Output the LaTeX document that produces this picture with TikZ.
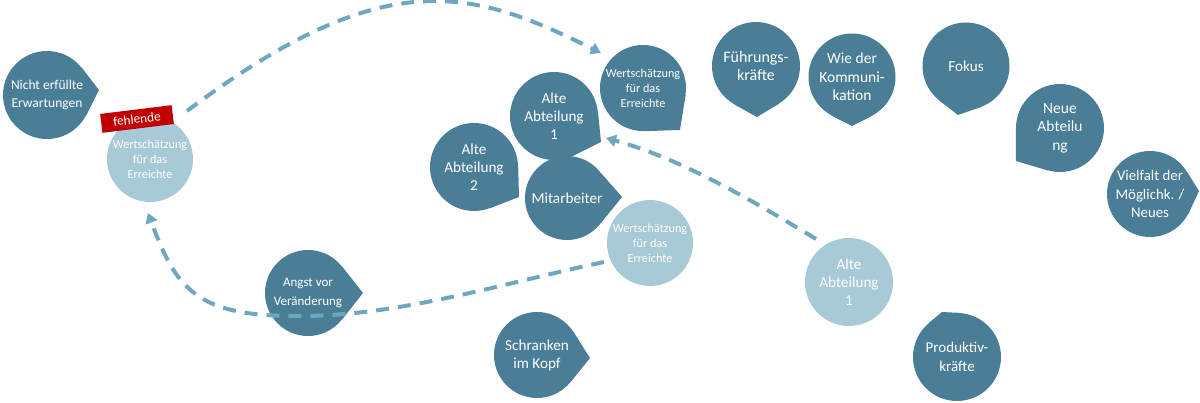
\documentclass[tikz,border=0pt]{standalone}
\usepackage{fontspec}
\setmainfont{Carlito}
\usetikzlibrary{arrows.meta}
\pgfdeclarelayer{bg}
\pgfsetlayers{bg,main}
\definecolor{bdark}{HTML}{4A7E96}
\definecolor{blight}{HTML}{A8C9D6}
\definecolor{arrowc}{HTML}{6FA7C1}
\definecolor{redlbl}{HTML}{C00000}
\tikzset{
  bubble/.style={circle, fill=bdark, inner sep=0pt, minimum size=#1, text=white,
    align=center, font=\fontsize{15.2}{18}\selectfont},
  bubble/.default=88pt,
  sbubble/.style={bubble=#1, font=\fontsize{12.2}{15}\selectfont},
  lbubble/.style={bubble=#1, fill=blight},
  slbubble/.style={sbubble=#1, fill=blight},
  fs/.style={font=\fontsize{#1}{18.5}\selectfont},
  tailfill/.style={fill=bdark},
  redtag/.style={fill=redlbl, text=white, inner sep=0pt, minimum width=72pt,
    minimum height=19pt, font=\fontsize{13.3}{15}\selectfont},
  arr/.style={draw=arrowc, line width=4pt, dash pattern=on 13pt off 9pt,
    -{Triangle[length=10pt,width=12pt]}},
}
\newcommand\btail[4]{\fill[tailfill] (#1.center) -- (#1.#2) -- #3 -- (#1.#4) -- cycle;}
\begin{document}
\begin{tikzpicture}[x=1pt,y=-1pt]
\useasboundingbox (0,0) rectangle (1200,403);

% dark bubbles
\node[bubble=88pt, fs=13.5] (nicht) at (47,95) {Nicht erfüllte\\Erwartungen};
\node[sbubble=86pt] (wtop) at (643,88) {Wertschätzung\\für das\\Erreichte};
\node[bubble=88pt] (alt1) at (554,116) {Alte\\Abteilung\\1};
\node[bubble=88pt] (alt2) at (474,167) {Alte\\Abteilung\\2};
\node[bubble=84pt] (mitar) at (567,198) {Mitarbeiter};
\node[bubble=88pt, fs=16] (fuehr) at (756,66) {Führungs-\\kräfte};
\node[bubble=87pt, fs=15.5] (wie) at (852,77) {Wie der\\Kommuni-\\kation};
\node[bubble=87pt] (fokus) at (966,66) {Fokus};
\node[bubble=88pt, fs=15.5] (neue) at (1060,128) {Neue\\Abteilu\\ng};
\node[bubble=86pt, fs=14.8] (viel) at (1150,194) {Vielfalt der\\Möglichk. /\\Neues};
\node[bubble=86pt, fs=13] (angst) at (308,293) {Angst vor\\Veränderung};
\node[bubble=86pt] (schr) at (537,355) {Schranken\\im Kopf};
\node[bubble=88pt, fs=15] (prod) at (957,357) {Produktiv-\\kräfte};

% light bubbles
\node[slbubble=86pt] (wleft) at (150,159) {Wertschätzung\\für das\\Erreichte};
\node[slbubble=86pt] (wmid) at (650,243) {Wertschätzung\\für das\\Erreichte};
\node[lbubble=88pt] (alt1l) at (849,282) {Alte\\Abteilung\\1};

% tails
\begin{pgfonlayer}{bg}
\btail{nicht}{38}{(99,90)}{-27}
\btail{wtop}{-9}{(680,130)}{-89}
\btail{alt1}{6}{(601,142)}{-64}
\btail{alt2}{2}{(519,197)}{-69}
\btail{mitar}{36}{(622,197)}{-36}
\btail{fuehr}{-59}{(757,117)}{-119}
\btail{wie}{-62}{(852,126)}{-118}
\btail{fokus}{-69}{(958,115)}{-129}
\btail{neue}{-106}{(1016,161)}{-180}
\btail{viel}{30}{(1199,191)}{-27}
\btail{angst}{38}{(363,293)}{-38}
\btail{schr}{33}{(590,358)}{-39}
\btail{prod}{86}{(942,312)}{130}
\end{pgfonlayer}

% red label
\node[redtag, rotate=7] (fehl) at (137,119) {fehlende};

% arrows
\coordinate (a1s) at (187,111);
\coordinate (a1e) at (601,53);
\coordinate (a2s) at (816,239);
\coordinate (a2e) at (606,138);
\coordinate (a3s) at (604,262);
\coordinate (a3m) at (300,316);
\coordinate (a3e) at (148,213);
\draw[arr] (a1s) .. controls (386,-38) and (472,-11) .. (a1e);
\draw[arr] (a2s) .. controls (745,196) and (678,158) .. (a2e);
\draw[arr] (a3s) .. controls (504,283) and (400,316) .. (a3m)
  .. controls (195,317) and (176,288) .. (a3e);
\end{tikzpicture}
\end{document}
